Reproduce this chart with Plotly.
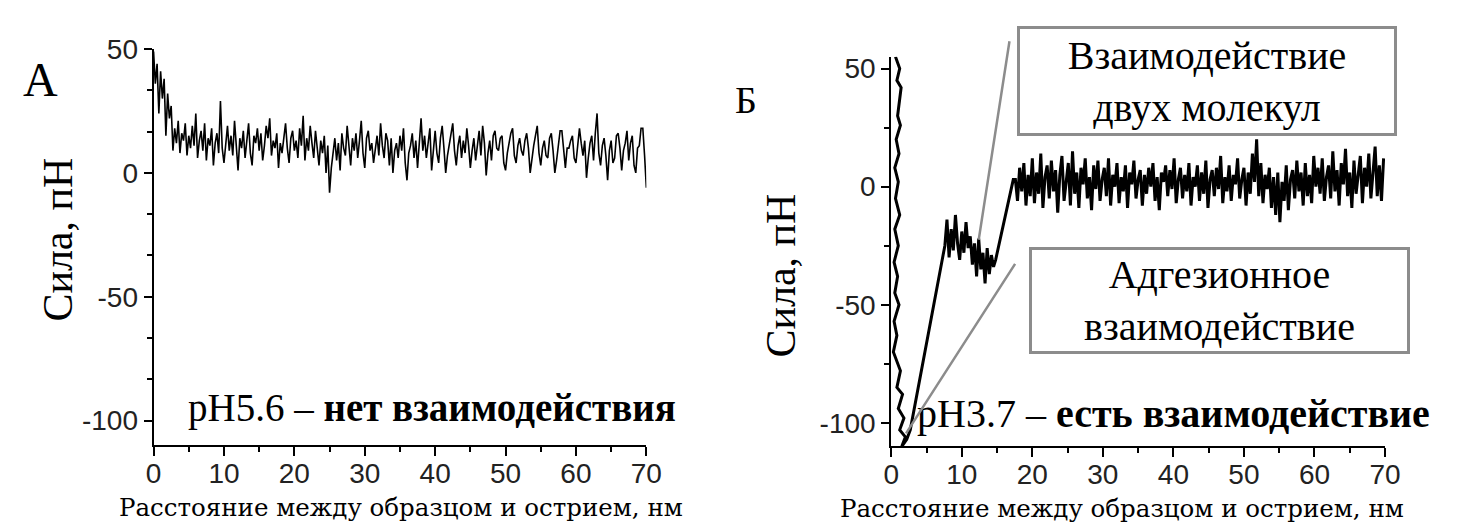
import numpy as np
import plotly.graph_objects as go

W, H = 1461, 528

# ---------------- data ----------------
X_TICKS = [0, 10, 20, 30, 40, 50, 60, 70]
X_TICK_TEXT = ["0", "10", "20", "30", "40", "50", "60", "70"]
Y_TICKS = [-100, -50, 0, 50]
Y_TICK_TEXT = ["-100", "-50", "0", "50"]

# Panel A: force (pN) every 0.25 nm from 0 to 70 nm
LEFT_STEP = 0.25
LEFT_FORCE = [
    49, 36, 44, 24, 41, 30, 38, 15, 32, 22,
    27, 9, 18, 12, 21, 8, 16, 13, 20, 7,
    15, 10, 19, 11, 24, 6, 13, 17, 9, 20,
    5, 14, 11, 18, 3, 12, 16, 8, 29, 10,
    4, 13, 19, 9, 15, 7, 21, 11, 1, 14,
    10, 17, 6, 13, 20, 8, 3, 15, 12, 18,
    9, 16, 5, 11, 19, 14, 22, 7, 13, 10,
    16, 2, 12, 8, 15, 20, 10, 4, 14, 17,
    9, 13, 6, 18, 11, 23, 5, 14, 9, 19,
    12, 6, 17, 10, 3, 13, 8, 15, 0, 11,
    -8, 2, 9, 14, 5, 12, 1, 16, 10, 7,
    19, 12, 3, 14, 9, 16, 6, 13, 21, 8,
    2, 14, 17, 9, 12, 4, 10, 15, 7, 20,
    11, 6, 16, 13, 3, 14, 0, 9, 12, 6,
    15, 9, 18, 4, -3, 8, 11, 16, 6, 13,
    2, 12, 22, 9, 15, 6, 13, 18, 1, 10,
    17, 8, 4, 14, 19, 10, 0, 7, 12, 16,
    20, 9, 3, 11, 15, 6, 13, 8, 18, 11,
    2, 9, 14, 5, 11, 17, 7, 19, 12, -1,
    8, 13, 5, 15, 17, 10, 9, 14, 15, 4,
    1, 8, 12, 16, 18, 7, 4, 11, 14, 9,
    7, 13, 16, 10, 0, 6, 11, 15, 19, 8,
    3, 10, 13, 7, 6, 14, 16, 9, 0, 5,
    12, 17, 17, 8, 2, 10, 10, 13, 15, 6,
    4, 11, 18, 12, 7, 13, -2, 6, 12, 15,
    5, 16, 24, 8, 3, 11, 14, 7, -3, 9,
    13, 4, 6, 15, 16, 10, 1, 9, 12, 17,
    5, 12, 15, 3, 0, 10, 11, 18, 18, 7,
    -6,
]

# Panel B: approach (contact) part
RIGHT_APPROACH_X = [0.6, 1.2, 0.8, 1.4, 0.9, 1.3, 0.7, 1.1, 0.5, 1.0,
                    0.6, 1.2, 0.5, 1.0, 0.4, 0.9, 0.5, 1.1, 0.4, 0.8,
                    0.3, 0.9, 1.3, 0.8, 1.6, 1.0, 1.8, 1.2, 2.0, 1.5, 2.2]
RIGHT_APPROACH_Y = [55, 50, 45, 42, 30, 26, 20, 14, 8, 2,
                    -5, -12, -18, -25, -32, -38, -45, -50, -57, -63,
                    -70, -75, -78, -85, -88, -94, -98, -103, -106, -110, -107]
# Panel B: retract part with the two-molecule plateau
RIGHT_RETRACT_X = [2.7, 7.6, 7.9, 8.2, 8.5, 8.8, 9.1, 9.4, 9.7, 10.0,
                   10.3, 10.6, 10.9, 11.2, 11.5, 11.8, 12.1, 12.4, 12.7, 13.0,
                   13.3, 13.6, 13.9, 14.2, 14.5, 14.8, 17.3]
RIGHT_RETRACT_Y = [-103, -25, -14, -30, -18, -27, -12, -24, -31, -19,
                   -28, -15, -26, -21, -33, -24, -38, -22, -35, -28,
                   -41, -26, -37, -29, -34, -31, 3]
# Panel B: free-cantilever noise every 0.3 nm from 17.6 nm
RIGHT_NOISE_START = 17.6
RIGHT_NOISE_STEP = 0.3
RIGHT_NOISE_Y = [
    3, -6, 8, -2, 10, -8, 5, -4, 12, -7,
    6, -3, 14, -9, 4, 9, -5, 11, -2, 7,
    -11, 5, 13, -6, 2, 10, -8, 15, -3, 6,
    -9, 8, 1, 12, -5, 4, -10, 9, -1, 11,
    -6, 3, 8, -4, 12, -8, 5, 0, 10, -7,
    4, -2, 9, -9, 6, 1, 11, -5, 3, 7,
    -8, 5, -3, 8, 0, 10, -6, 4, -10, 6,
    2, 9, -4, 7, -1, 12, -7, 3, 8, -5,
    5, -2, 10, -8, 4, 0, 9, -6, 6, -3,
    11, -9, 3, 7, -4, 8, -1, 13, -7, 4,
    -2, 9, -6, 5, 1, 12, -5, 3, 8, -8,
    6, -3, 14, 2, 20, -4, 10, -7, 5, -1,
    8, -9, 4, -12, 6, -15, 2, -6, 9, -10,
    3, 7, -5, 11, -2, 6, -8, 10, -4, 5,
    -7, 13, 0, 8, -3, 12, -6, 4, 9, -5,
    15, -2, 7, -8, 10, 1, 16, -4, 6, -9,
    11, -3, 5, 13, -7, 8, 0, 14, -5, 6,
    17, -4, 9, -6, 12,
]

left_x = np.arange(len(LEFT_FORCE)) * LEFT_STEP
noise_x = RIGHT_NOISE_START + np.arange(len(RIGHT_NOISE_Y)) * RIGHT_NOISE_STEP
right_x = list(RIGHT_APPROACH_X) + list(RIGHT_RETRACT_X) + list(np.round(noise_x, 2))
right_y = list(RIGHT_APPROACH_Y) + list(RIGHT_RETRACT_Y) + list(RIGHT_NOISE_Y)

# ---------------- figure ----------------
fig = go.Figure()
fig.add_trace(go.Scatter(x=left_x, y=LEFT_FORCE, mode="lines",
                         line=dict(color="black", width=1.6),
                         xaxis="x", yaxis="y", showlegend=False))
fig.add_trace(go.Scatter(x=right_x, y=right_y, mode="lines",
                         line=dict(color="black", width=3),
                         xaxis="x2", yaxis="y2", showlegend=False))

TICKFONT = dict(family="Liberation Sans, Arial, sans-serif", size=28, color="#222")


def xaxis(domain, anchor):
    return dict(domain=domain, anchor=anchor, range=[0, 70],
                showline=True, linecolor="black", linewidth=2,
                ticks="outside", ticklen=9, tickwidth=2, tickcolor="black",
                tickvals=X_TICKS, ticktext=X_TICK_TEXT, tickfont=TICKFONT,
                ticklabelstandoff=-7,
                minor=dict(dtick=5, tick0=0, ticks="outside", ticklen=5,
                           tickwidth=2, tickcolor="black", showgrid=False),
                showgrid=False, zeroline=False, fixedrange=True)


def yaxis(domain, anchor, rng, minor_dtick):
    return dict(domain=domain, anchor=anchor, range=rng,
                showline=True, linecolor="black", linewidth=2,
                ticks="outside", ticklen=8, tickwidth=2, tickcolor="black",
                tickvals=Y_TICKS, ticktext=Y_TICK_TEXT, tickfont=TICKFONT,
                minor=dict(dtick=minor_dtick, tick0=0, ticks="outside", ticklen=5,
                           tickwidth=2, tickcolor="black", showgrid=False),
                showgrid=False, zeroline=False, fixedrange=True)


def px(x):
    return x / W


def py(y):
    return 1 - y / H


SERIF = "Liberation Serif, Times New Roman, serif"
TITLE_SERIF = "DejaVu Serif, serif"
GRAY = "#8c8c8c"

annotations = []


def text(t, x, y, size, family=SERIF, angle=0, **kw):
    annotations.append(dict(text=t, x=px(x), y=py(y), xref="paper", yref="paper",
                            xanchor="center", yanchor="middle", showarrow=False,
                            textangle=angle,
                            font=dict(family=family, size=size, color="black"), **kw))


# panel letters
text("А", 33, 66, 48)
text("Б", 750, 87, 38)
# y titles
text("Сила, пН", 51, 231, 42, angle=-90)
text("Сила, пН", 786, 268, 42, angle=-90)
# x titles
text("Расстояние между образцом и острием, нм", 400, 507, 24.5, family=TITLE_SERIF)
text("Расстояние между образцом и острием, нм", 1133, 508, 24.5, family=TITLE_SERIF)
# condition labels
text("pH5.6 – <b>нет взаимодействия</b>", 431, 405, 39)
text("pH3.7 – <b>есть взаимодействие</b>", 1185, 410, 40)
# boxed labels
text("Взаимодействие<br>двух молекул", 1219, 68, 40,
     bordercolor=GRAY, borderwidth=3, borderpad=0, width=374, height=104,
     bgcolor="white")
text("Адгезионное<br>взаимодействие", 1232, 294, 40,
     bordercolor=GRAY, borderwidth=3, borderpad=0, width=375, height=101,
     bgcolor="white")

# callout lines (from box to curve features)
annotations.append(dict(x=12.4, y=-22.5, xref="x2", yref="y2", text="",
                        showarrow=True, arrowhead=0, arrowwidth=2.5,
                        arrowcolor=GRAY, ax=31, ay=-200, standoff=0))
annotations.append(dict(x=2.1, y=-104.5, xref="x2", yref="y2", text="",
                        showarrow=True, arrowhead=0, arrowwidth=2.5,
                        arrowcolor=GRAY, ax=110, ay=-171, standoff=0))

fig.update_layout(
    width=W, height=H, autosize=False,
    margin=dict(l=0, r=0, t=0, b=0),
    paper_bgcolor="white", plot_bgcolor="white",
    xaxis=xaxis([px(148), px(649)], "y"),
    yaxis=yaxis([py(443), py(35)], "x", [-110, 50], 50 / 3),
    xaxis2=xaxis([px(898), px(1400)], "y2"),
    yaxis2=yaxis([py(444), py(43)], "x2", [-110, 55], 25),
    annotations=annotations,
    showlegend=False,
)

fig.write_html("out.html", config={"displayModeBar": False})
